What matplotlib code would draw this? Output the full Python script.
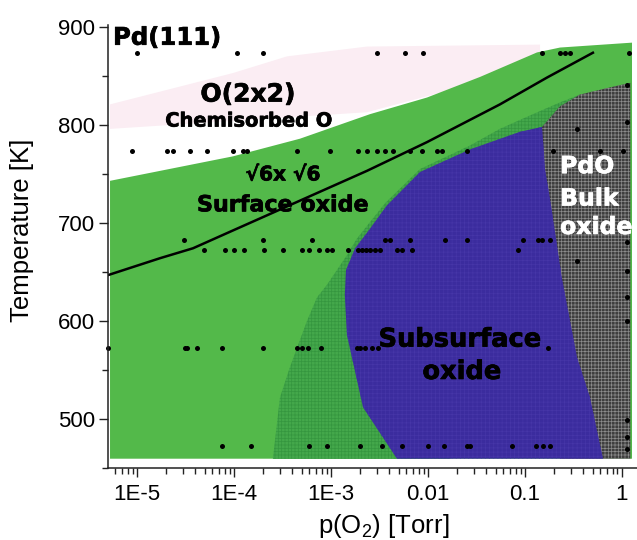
import numpy as np
import matplotlib
matplotlib.use("Agg")
import matplotlib.pyplot as plt
import matplotlib.patheffects as pe
from matplotlib.patches import Polygon

plt.rcParams['font.family'] = ['Liberation Sans', 'DejaVu Sans']
plt.rcParams['mathtext.fontset'] = 'custom'
plt.rcParams['mathtext.rm'] = 'Liberation Sans'
plt.rcParams['hatch.linewidth'] = 0.5

# phase regions, (p [Torr], T [K]) along each boundary
chem_p = [5.27e-6, 9.77e-5, 3.52e-4, 2.35e-3, 0.143, 0.143, 2.35e-3, 5.27e-6]
chem_T = [821, 853, 870, 880, 882, 860, 813, 796]

surf_p = [5.27e-6, 9.77e-5, 4.79e-4, 2.52e-3, 9.77e-3, 3.44e-2, 0.133, 0.230, 1.27, 1.27, 5.27e-6]
surf_T = [743, 768, 786, 811, 828, 849, 874, 879, 884, 459.5, 459.5]

mix_p = [2.52e-4, 2.98e-4, 3.78e-4, 5.66e-4, 7.18e-4, 9.10e-4, 1.46e-3, 1.85e-3, 3.60e-3,
         8.28e-3, 2.71e-2, 5.52e-2, 0.121, 0.230, 0.369, 0.593, 1.69e-2]
mix_T = [459.5, 522, 553, 600, 624, 637, 667, 684, 720, 755, 779, 796, 811, 823, 831, 624, 459.5]

bulk_p = [0.113, 0.150, 0.230, 0.369, 0.807, 1.22, 1.22, 0.230]
bulk_T = [786, 798, 819, 831, 839, 843, 459.5, 459.5]

sub_p = [4.79e-3, 2.14e-3, 1.46e-3, 1.39e-3, 1.43e-3, 1.77e-3, 2.52e-3, 3.78e-3, 8.28e-3,
         2.71e-2, 8.87e-2, 0.150, 0.161, 0.181, 0.209, 0.240, 0.344, 0.468, 0.637]
sub_T = [459.5, 512, 586, 627, 652, 674, 694, 718, 752, 775, 793, 798, 755, 725, 684,
         644, 563, 522, 459.5]

# boundary line
line_p = [5.02e-6, 1.73e-5, 3.78e-5, 9.77e-5, 1.85e-4, 4.79e-4, 2.35e-3, 9.77e-3, 5.52e-2, 0.169, 0.502]
line_T = [646.8, 664.1, 674.2, 692.4, 704.6, 722.8, 753.2, 782.5, 821.0, 848.4, 873.7]

# experimental points
row_T = [873.7, 773.4, 682.6, 672.2, 572.9, 472.7]
row_p = [
    [1.0e-5, 1.07e-4, 1.99e-4, 2.98e-3, 5.8e-3, 8.9e-3, 0.150, 0.230, 0.258, 0.291, 1.18],
    [8.9e-6, 2.04e-5, 2.35e-5, 3.52e-5, 5.27e-5, 9.77e-5, 1.24e-4, 1.36e-4, 4.46e-4, 9.77e-4,
     1.90e-3, 2.35e-3, 2.98e-3, 3.60e-3, 4.36e-3, 6.52e-3, 8.67e-3, 1.24e-2, 1.39e-2, 2.52e-2,
     0.195, 0.593, 1.02],
    [3.05e-5, 1.99e-4, 6.37e-4, 3.60e-3, 4.06e-3, 6.52e-3, 1.50e-2, 2.52e-2, 9.5e-2, 0.136,
     0.150, 0.181],
    [4.91e-5, 8.07e-5, 1.0e-4, 1.27e-4, 2.04e-4, 3.20e-4, 5.02e-4, 5.93e-4, 7.52e-4, 9.1e-4,
     1.02e-3, 1.50e-3, 1.90e-3, 2.09e-3, 2.30e-3, 2.52e-3, 2.84e-3, 3.20e-3, 4.79e-3, 5.39e-3,
     6.84e-3, 8.47e-2],
    [5.02e-6, 3.13e-5, 3.27e-5, 4.16e-5, 7.52e-5, 1.99e-4, 4.46e-4, 5.02e-4, 5.79e-4, 7.89e-4,
     1.85e-3, 1.99e-3, 2.24e-3, 2.65e-3, 3.05e-3, 0.173],
    [7.52e-5, 1.50e-4, 5.93e-4, 9.1e-4, 1.99e-3, 3.36e-3, 5.39e-3, 1.0e-2, 1.46e-2, 2.52e-2,
     2.71e-2, 7.35e-2, 0.130, 0.153, 0.181],
]
edge_p = [1.13, 1.13, 1.13, 1.13, 1.13, 1.13, 1.13, 1.13, 1.13, 0.344, 0.344]
edge_T = [841, 803, 681, 651, 624, 600, 499, 482, 469, 796, 661]

xticks = [1e-5, 1e-4, 1e-3, 1e-2, 1e-1, 1]
xticklabels = ["1E-5", "1E-4", "1E-3", "0.01", "0.1", "1"]
yticks = [500, 600, 700, 800, 900]

fig = plt.figure(figsize=(6.37, 5.4), dpi=100)
ax = fig.add_axes([0.1695, 0.1333, 0.8305, 0.8204])
ax.set_xscale('log')
ax.set_xlim(5.02e-6, 1.43)
ax.set_ylim(453.4, 902)


def region(p, T, face, hatch=None, hatchcol=None):
    poly = Polygon(np.column_stack([p, T]), closed=True, facecolor=face,
                   edgecolor=hatchcol if hatchcol else face, linewidth=0, hatch=hatch)
    ax.add_patch(poly)


region(chem_p, chem_T, '#fbedf3')
region(surf_p, surf_T, '#53b94a')
region(mix_p, mix_T, '#44a84b', '+++++', '#35963f')
region(bulk_p, bulk_T, '#3e3e3e', '+++++', '#8c8c8c')
region(sub_p, sub_T, '#3b2c9e', '++++', '#4636a8')

ax.plot(line_p, line_T, color='black', lw=1.8)

for T, ps in zip(row_T, row_p):
    ax.plot(ps, [T] * len(ps), 'o', color='black', ms=3.6, mec='none', clip_on=False)
ax.plot(edge_p, edge_T, 'o', color='black', ms=3.6, mec='none')

heavy = [pe.withStroke(linewidth=0.5, foreground='black')]
heavy_w = [pe.withStroke(linewidth=0.5, foreground='white')]
bold = dict(family='DejaVu Sans', fontweight='bold')
ax.text(5.66e-6, 889, "Pd(111)", fontsize=17.5, ha='left', va='center', path_effects=heavy, **bold)
ax.text(1.39e-4, 831, "O(2x2)", fontsize=18, ha='center', va='center', path_effects=heavy, **bold)
ax.text(1.43e-4, 804, "Chemisorbed O", fontsize=14, ha='center', va='center', path_effects=heavy, **bold)
ax.text(3.2e-4, 749, "√6x √6", fontsize=14.5, ha='center', va='center', path_effects=heavy, **bold)
ax.text(3.2e-4, 718, "Surface oxide", fontsize=16, ha='center', va='center', path_effects=heavy, **bold)
ax.text(2.14e-2, 581, "Subsurface", fontsize=18.5, ha='center', va='center', path_effects=heavy, **bold)
ax.text(2.24e-2, 548, "oxide", fontsize=18.5, ha='center', va='center', path_effects=heavy, **bold)
ax.text(0.230, 758, "PdO", fontsize=17, color='white', ha='left', va='center', path_effects=heavy_w, **bold)
ax.text(0.230, 725, "Bulk", fontsize=17, color='white', ha='left', va='center', path_effects=heavy_w, **bold)
ax.text(0.230, 696, "oxide", fontsize=17, color='white', ha='left', va='center', path_effects=heavy_w, **bold)

ax.set_xticks(xticks)
ax.set_xticklabels(xticklabels)
ax.set_yticks(yticks)
ax.set_yticks(np.arange(450, 901, 50), minor=True)
ax.tick_params(which='major', length=6.5, width=1, labelsize=16, pad=3, color='#222222')
ax.tick_params(which='minor', length=4, width=1, color='#222222')
ax.tick_params(axis='x', which='major', pad=5)
for s in ['top', 'right']:
    ax.spines[s].set_visible(False)
for s in ['left', 'bottom']:
    ax.spines[s].set_linewidth(1.1)
    ax.spines[s].set_color('#222222')

ax.set_ylabel("Temperature [K]", fontsize=18.5)
ax.yaxis.set_label_coords(-0.14, 0.537)
ax.set_xlabel("p(O$_2$) [Torr]", fontsize=18.5)
ax.xaxis.set_label_coords(0.522, -0.099)

fig.savefig("out.png", dpi=100)
